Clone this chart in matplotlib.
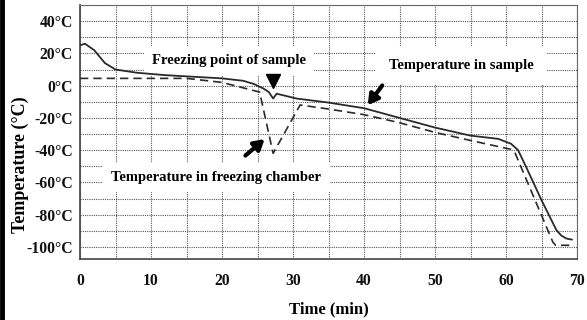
import matplotlib
matplotlib.use("Agg")
import matplotlib.pyplot as plt

# ---- data ----
sample_t = [0, 0.7, 2, 3.5, 5, 8, 12, 16, 20, 23, 24.5, 25.8, 26.6, 27.2, 27.7,
            30.5, 35, 40, 45, 50, 55, 58.9, 60.7, 61.7, 63, 65, 67.1, 67.8, 68.5, 69.3]
sample_T = [25, 26, 22, 14, 10, 8, 6.5, 5.5, 4.5, 3, 1, -1.7, -4, -8, -5,
            -8, -10.5, -14, -20, -26, -31, -33, -36, -40, -52, -71, -89.6, -93, -94.8, -95.5]

chamber_t = [0, 5, 10, 15, 20, 25.3, 27.2, 31, 35, 40, 45, 50, 55, 60.7, 61.3,
             66.6, 67, 69.5]
chamber_T = [4.5, 4.5, 4.5, 4.5, 2, -4, -42, -12, -14.5, -18, -23, -29, -34, -39.5, -42,
             -97, -99, -99]

x_ticks = [0, 10, 20, 30, 40, 50, 60, 70]
y_ticks = [40, 20, 0, -20, -40, -60, -80, -100]
y_tick_labels = ["40°C", "20°C", "0°C", "-20°C", "-40°C", "-60°C", "-80°C", "-100°C"]

label_freeze = "Freezing point of sample"
label_sample = "Temperature in sample"
label_chamber = "Temperature in freezing chamber"

# ---- figure ----
plt.rcParams['font.family'] = ['Liberation Serif', 'DejaVu Serif']
fig = plt.figure(figsize=(5.87, 3.20), dpi=100)
ax = fig.add_axes([80/587, 1-259/320, (577-80)/587, (259-5)/320])

ax.set_xlim(0, 70)
ax.set_ylim(-107.5, 50)

ax.set_xticks(x_ticks)
ax.set_xticks([5, 15, 25, 35, 45, 55, 65], minor=True)
ax.set_yticks(list(range(-100, 51, 10)))
ax.set_yticklabels([y_tick_labels[y_ticks.index(v)] if v in y_ticks else "" for v in range(-100, 51, 10)])
ax.set_xticklabels([str(v) for v in x_ticks])

for lab in ax.get_xticklabels() + ax.get_yticklabels():
    lab.set_fontweight('bold')
    lab.set_fontsize(11.3)
ax.tick_params(axis='both', which='both', length=0, colors='#111')
ax.tick_params(axis='y', pad=5)
ax.tick_params(axis='x', pad=10)

gridkw = dict(color='#555', linestyle=(0, (1, 1)), linewidth=0.8)
ax.grid(True, which='both', axis='x', **gridkw)
ax.grid(True, which='major', axis='y', **gridkw)
ax.set_axisbelow(True)

for s in ['top', 'right']:
    ax.spines[s].set_color('#666')
    ax.spines[s].set_linestyle((0, (1, 1)))
    ax.spines[s].set_linewidth(0.8)
for s in ['left', 'bottom']:
    ax.spines[s].set_color('#444')
    ax.spines[s].set_linewidth(1.2)

ax.set_xlabel("Time (min)", fontsize=12, fontweight='bold', labelpad=9)
ax.set_ylabel("Temperature (°C)", fontsize=13, fontweight='bold', labelpad=4)
ax.yaxis.set_label_coords(-0.103, 0.37)

ax.plot(sample_t, sample_T, color='#2a2a2a', linewidth=1.3, solid_capstyle='round', zorder=3)
ax.plot(chamber_t, chamber_T, color='#2a2a2a', linewidth=1.2, linestyle=(0, (5, 3)), zorder=3)

ax.text(21, 15.6, label_freeze, ha='center', va='center', fontsize=10.5,
        fontweight='bold', bbox=dict(facecolor='white', edgecolor='none', pad=6), zorder=2)
ax.text(53.7, 12.5, label_sample, ha='center', va='center', fontsize=10.5,
        fontweight='bold', bbox=dict(facecolor='white', edgecolor='none', pad=9), zorder=2)
ax.text(19.2, -57, label_chamber, ha='center', va='center', fontsize=10.5,
        fontweight='bold', bbox=dict(facecolor='white', edgecolor='none', pad=6), zorder=2)

ax.plot([27.2], [2.8], marker='v', markersize=10, color='black', zorder=4)

arrowkw = dict(arrowstyle='-|>,head_length=0.6,head_width=0.35', color='black', lw=3)
ax.annotate("", xy=(40.3, -13.5), xytext=(42.8, 1.5), arrowprops=arrowkw, zorder=4)
ax.annotate("", xy=(26.3, -32), xytext=(23, -44.5), arrowprops=arrowkw, zorder=4)

# black frame at left edge of image
fig.add_artist(plt.Line2D([2/587, 2/587], [0, 1], color='black', linewidth=3.5,
                          transform=fig.transFigure))

fig.savefig("out.png", dpi=100)
